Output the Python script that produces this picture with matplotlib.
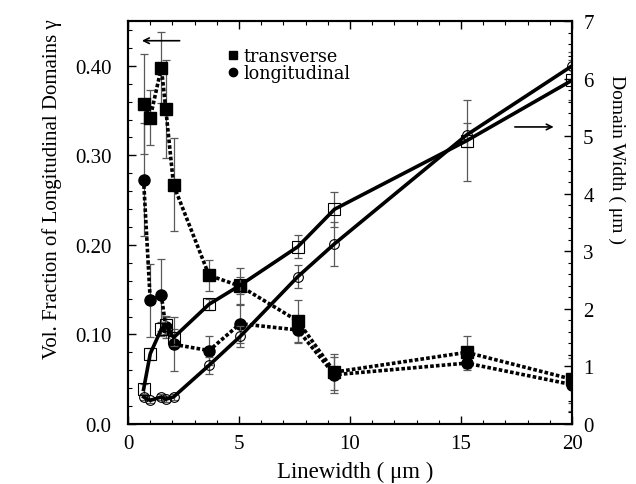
import numpy as np
import matplotlib.pyplot as plt
from matplotlib.lines import Line2D
from matplotlib.ticker import MultipleLocator, FixedLocator, FixedFormatter

plt.rcParams['font.family'] = ['Liberation Serif', 'DejaVu Serif']
plt.rcParams['mathtext.fontset'] = 'dejavuserif'

# Linewidth (um)
linewidth = [0.7, 1.0, 1.5, 1.7, 2.05, 3.65, 5.05, 7.65, 9.3, 15.25, 20.0]

# volume fraction gamma (left axis)
gamma_tr = [0.357, 0.342, 0.398, 0.352, 0.267, 0.166, 0.154, 0.115, 0.058, 0.080, 0.050]
gamma_tr_err = [0.056, 0.031, 0.04, 0.055, 0.052, 0.017, 0.02, 0.023, 0.02, 0.018, 0.027]
gamma_lo = [0.273, 0.138, 0.144, 0.108, 0.089, 0.082, 0.112, 0.105, 0.055, 0.068, 0.044]
gamma_lo_err = [0.063, 0.041, 0.04, 0.012, 0.03, 0.016, 0.021, 0.015, 0.02, 0.008, 0.03]

# domain width (right axis, um)
width_tr = [0.6, 1.22, 1.65, 1.72, 1.5, 2.08, 2.41, 3.08, 3.73, 4.92, 5.97]
width_tr_err = [0.1, 0.1, 0.12, 0.15, 0.15, 0.1, 0.15, 0.2, 0.3, 0.7, 0.35]
width_lo = [0.47, 0.41, 0.47, 0.43, 0.47, 1.02, 1.52, 2.56, 3.13, 5.02, 6.22]
width_lo_err = [0.05, 0.05, 0.05, 0.05, 0.05, 0.15, 0.18, 0.2, 0.38, 0.2, 0.25]

left_ticks = [0.0, 0.1, 0.2, 0.3, 0.4]
left_labels = ['0.0', '0.10', '0.20', '0.30', '0.40']

fs = 15
fig = plt.figure(figsize=(6.36, 4.85), dpi=100)
ax = fig.add_axes([0.2013, 0.1237, 0.6981, 0.8309])
ax2 = ax.twinx()

ebar = dict(fmt='none', ecolor='0.35', elinewidth=0.9, capsize=3, capthick=0.9)

# gamma: dotted lines with filled markers
ax.errorbar(linewidth, gamma_tr, yerr=gamma_tr_err, **ebar)
ax.errorbar(linewidth, gamma_lo, yerr=gamma_lo_err, **ebar)
ax.plot(linewidth, gamma_tr, color='k', lw=2.6, ls=(0, (1, 0.6)),
        marker='s', ms=8, mfc='k', mec='k')
ax.plot(linewidth, gamma_lo, color='k', lw=2.6, ls=(0, (1, 0.6)),
        marker='o', ms=8, mfc='k', mec='k')

# domain width: solid lines with open markers
ax2.errorbar(linewidth, width_tr, yerr=width_tr_err, **ebar)
ax2.errorbar(linewidth, width_lo, yerr=width_lo_err, **ebar)
ax2.plot(linewidth, width_tr, color='k', lw=2.6, marker='s', ms=8,
         mfc='none', mec='k', mew=0.8)
ax2.plot(linewidth, width_lo, color='k', lw=2.6, marker='o', ms=7,
         mfc='none', mec='k', mew=0.8)

ax.set_xlim(0, 20)
ax.set_ylim(0, 0.45)
ax2.set_ylim(0, 7)

ax.xaxis.set_major_locator(MultipleLocator(5))
ax.xaxis.set_minor_locator(MultipleLocator(1))
ax.yaxis.set_major_locator(FixedLocator(left_ticks))
ax.yaxis.set_major_formatter(FixedFormatter(left_labels))
ax.yaxis.set_minor_locator(MultipleLocator(0.02))
ax2.yaxis.set_major_locator(MultipleLocator(1))
ax2.yaxis.set_minor_locator(MultipleLocator(0.2))

ax.tick_params(which='both', direction='in', top=True, labelsize=fs)
ax.tick_params(which='major', length=6, width=1)
ax.tick_params(which='minor', length=3, width=0.8)
ax.tick_params(axis='x', pad=7)
ax.tick_params(axis='y', pad=12)
ax2.tick_params(which='both', direction='in', labelsize=fs, pad=8)
ax2.tick_params(which='major', length=6, width=1)
ax2.tick_params(which='minor', length=3, width=0.8)
for a in (ax, ax2):
    for s in a.spines.values():
        s.set_linewidth(1.5)

ax.set_xlabel('Linewidth ( \u03bcm )', fontsize=16.5)
ax.xaxis.set_label_coords(0.511, -0.092)
ax.set_ylabel('Vol. Fraction of Longitudinal Domains \u03b3', fontsize=15)
ax.yaxis.set_label_coords(-0.149, 0.585)
ax2.set_ylabel('Domain Width ( \u03bcm )', fontsize=14, rotation=-90,
               va='bottom', ha='center', rotation_mode='anchor')
ax2.yaxis.set_label_coords(1.081, 0.66)

# arrows pointing to the axis each curve belongs to
ax.annotate('', xy=(0.5, 0.428), xytext=(2.45, 0.428),
            arrowprops=dict(arrowstyle='->', lw=1.2, color='k'))
ax2.annotate('', xy=(19.3, 5.16), xytext=(17.3, 5.16),
             arrowprops=dict(arrowstyle='->', lw=1.2, color='k'))

handles = [Line2D([], [], ls='none', marker='s', ms=5.5, color='k'),
           Line2D([], [], ls='none', marker='o', ms=6, color='k')]
ax.legend(handles, ['transverse', 'longitudinal'], loc='upper left',
          bbox_to_anchor=(0.2, 0.953), frameon=False,
          prop={'family': 'DejaVu Serif', 'size': 12.7},
          handletextpad=0.1, handlelength=1.0, labelspacing=-0.05,
          borderaxespad=0)

fig.savefig('out.png', dpi=100)
